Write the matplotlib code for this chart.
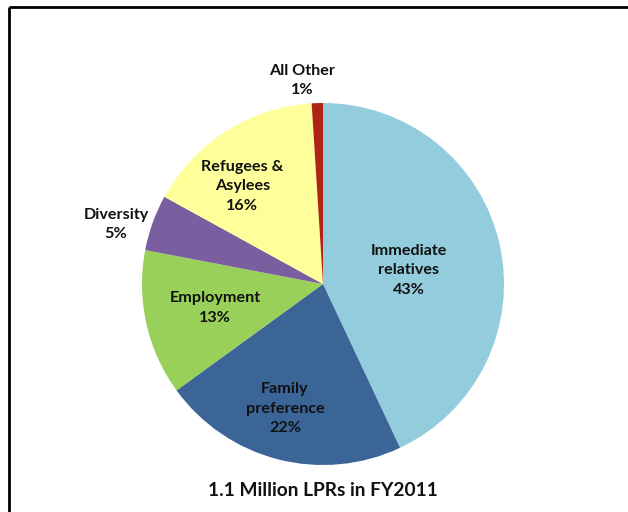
import matplotlib
matplotlib.use("Agg")
import matplotlib.pyplot as plt
import numpy as np

categories = ["Immediate\nrelatives", "Family\npreference", "Employment",
              "Diversity", "Refugees &\nAsylees", "All Other"]
shares = [43, 22, 13, 5, 16, 1]
colors = ["#93CDDD", "#3A6596", "#98D05A", "#7B5EA0", "#FEFE9A", "#B02418"]
title = "1.1 Million LPRs in FY2011"

# label placement (radial fraction of radius, angle tweak in degrees)
label_r = [0.48, 0.72, 0.61, 1.19, 0.70, 1.13]
label_dtheta = [-3.5, -2.6, 0, 3.8, 7.2, 4.0]

W, H = 628, 512
fig = plt.figure(figsize=(W / 100, H / 100), dpi=100)
ax = fig.add_axes([0, 0, 1, 1])
ax.set_xlim(0, W)
ax.set_ylim(0, H)
ax.set_aspect("equal")
ax.axis("off")

cx, cy, R = 323, H - 284, 181
wedges, _ = ax.pie(shares, colors=colors, startangle=90, counterclock=False,
                   center=(cx, cy), radius=R, frame=True,
                   wedgeprops=dict(linewidth=0))
ax.set_xlim(0, W)
ax.set_ylim(0, H)
ax.axis("off")

font = ["Lato", "DejaVu Sans"]
for w, cat, v, rf, dt in zip(wedges, categories, shares, label_r, label_dtheta):
    th = np.deg2rad((w.theta1 + w.theta2) / 2 + dt)
    x = cx + rf * R * np.cos(th)
    y = cy + rf * R * np.sin(th)
    ax.text(x, y, f"{cat}\n{v}%", ha="center", va="center",
            fontsize=11.6, fontweight="bold", family=font, color="#111111",
            linespacing=1.5)

ax.text(cx, H - 490, title, ha="center", va="center", fontsize=13.8,
        fontweight="bold", family=font, color="#111111")

# frame border (top and left visible)
ax.plot([9, W], [H - 7, H - 7], color="black", lw=2, solid_capstyle="butt")
ax.plot([9, 9], [H - 7, 0], color="black", lw=2, solid_capstyle="butt")

fig.savefig("out.png", dpi=100, facecolor="white")
